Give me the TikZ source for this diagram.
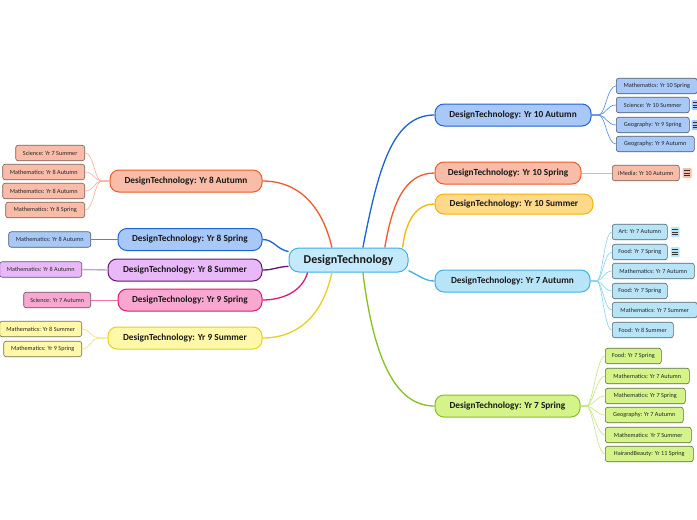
\documentclass[tikz,border=0pt]{standalone}
\usepackage{fontspec}
\setmainfont{Carlito}
\usetikzlibrary{calc}
\definecolor{blueF}{HTML}{A8C8F8}\definecolor{blueD}{HTML}{1E64D0}\definecolor{blueL}{HTML}{4A88E0}
\definecolor{salF}{HTML}{F8BCA8}\definecolor{salD}{HTML}{F05A28}\definecolor{salL}{HTML}{F8AE98}
\definecolor{orF}{HTML}{FFD98A}\definecolor{orD}{HTML}{F5B400}
\definecolor{skyF}{HTML}{B8E4F8}\definecolor{skyD}{HTML}{40B0E8}\definecolor{skyL}{HTML}{84D2F2}
\definecolor{rootF}{HTML}{C4E9FA}
\definecolor{limF}{HTML}{D4F48A}\definecolor{limD}{HTML}{88C020}\definecolor{limL}{HTML}{C4E680}
\definecolor{purF}{HTML}{E8B8F8}\definecolor{purD}{HTML}{601870}\definecolor{purL}{HTML}{C4A6D2}
\definecolor{pinF}{HTML}{F8A8D0}\definecolor{pinD}{HTML}{E01878}\definecolor{pinL}{HTML}{F070A8}
\definecolor{yelF}{HTML}{FFF8A8}\definecolor{yelD}{HTML}{E8D020}\definecolor{yelL}{HTML}{F0E070}
\begin{document}
\begin{tikzpicture}[x=1pt,y=-1pt,
  rootnode/.style={draw=skyD, fill=rootF, line width=1pt, rounded corners=10pt, minimum height=24pt, minimum width=119pt, inner sep=0pt, font=\bfseries\fontsize{12}{14}\selectfont, text=black!90},
  branch/.style={line width=1pt, rounded corners=9pt, minimum height=22pt, inner sep=0pt, font=\bfseries\fontsize{9.3}{11}\selectfont, text=black!90},
  leaf/.style={line width=0.6pt, rounded corners=2.5pt, minimum height=15.5pt, inner sep=0pt, font=\fontsize{6.2}{7}\selectfont, text=black!85},
  bl/.style={branch, draw=blueD, fill=blueF}, sal/.style={branch, draw=salD, fill=salF},
  orb/.style={branch, draw=orD, fill=orF}, sky/.style={branch, draw=skyD, fill=skyF},
  lim/.style={branch, draw=limD, fill=limF}, pur/.style={branch, draw=purD, fill=purF},
  pin/.style={branch, draw=pinD, fill=pinF}, yel/.style={branch, draw=yelD, fill=yelF},
  lbl/.style={leaf, draw=blueF!45!black, fill=blueF}, lsal/.style={leaf, draw=salF!50!black, fill=salF},
  lsky/.style={leaf, draw=skyF!45!black, fill=skyF}, llim/.style={leaf, draw=limF!45!black, fill=limF},
  lpur/.style={leaf, draw=purF!45!black, fill=purF}, lpin/.style={leaf, draw=pinF!45!black, fill=pinF},
  lyel/.style={leaf, draw=yelF!45!black, fill=yelF},
  main/.style={line width=1.3pt},
  twig/.style={line width=0.6pt},
  noteicon/.pic={\fill[pic actions, rounded corners=1pt] (-4.5,-5) rectangle (4.5,5);
     \draw[line width=0.7pt, black!80] (-2.6,-2.6)--(2.6,-2.6) (-2.6,0)--(2.6,0) (-2.6,2.6)--(2.6,2.6);}
]
\clip (0,0) rectangle (697,520);
\fill[white] (0,0) rectangle (697,520);

% root
\node[rootnode] (root) at (348.5,260) {DesignTechnology};

% branches right
\node[bl, minimum width=156pt] (b10a) at (513,115) {DesignTechnology: Yr 10 Autumn};
\node[sal, minimum width=146pt] (b10sp) at (508,173) {DesignTechnology: Yr 10 Spring};
\node[orb, minimum width=158pt, minimum height=20pt] (b10su) at (514,204) {DesignTechnology: Yr 10 Summer};
\node[sky, minimum width=155pt] (b7a) at (512.5,281) {DesignTechnology: Yr 7 Autumn};
\node[lim, minimum width=145pt] (b7sp) at (507.5,406) {DesignTechnology: Yr 7 Spring};
% branches left
\node[sal, minimum width=152pt] (b8a) at (186,181) {DesignTechnology: Yr 8 Autumn};
\node[bl, minimum width=144pt] (b8sp) at (190,239.5) {DesignTechnology: Yr 8 Spring};
\node[pur, minimum width=154pt] (b8su) at (185,270) {DesignTechnology: Yr 8 Summer};
\node[pin, minimum width=144pt] (b9sp) at (190,300) {DesignTechnology: Yr 9 Spring};
\node[yel, minimum width=154pt] (b9su) at (185,338) {DesignTechnology: Yr 9 Summer};

% main connectors
\draw[main, blueD] (root.41) .. controls (378,170) and (392,115) .. (b10a.west);
\draw[main, salD] (root.19) .. controls (392,205) and (404,173) .. (b10sp.west);
\draw[main, orD] (root.13.5) .. controls (405,225) and (414,204) .. (b10su.west);
\draw[main, skyD] (root.-10) .. controls (420,276) and (425,281) .. (b7a.west);
\draw[main, limD] (root.-41) .. controls (375,370) and (400,406) .. (b7sp.west);
\draw[main, salD] (root.143) .. controls (322,205) and (298,181) .. (b8a.east);
\draw[main, blueD] (root.172) .. controls (276,249) and (274,239.5) .. (b8sp.east);
\draw[main, purD] (root.186) .. controls (276,267) and (274,270) .. (b8su.east);
\draw[main, pinD] (root.197.5) .. controls (302,292) and (282,300) .. (b9sp.east);
\draw[main, yelD] (root.217) .. controls (322,318) and (296,338) .. (b9su.east);

% leaves Yr 10 Autumn
\node[lbl, anchor=west, minimum width=81pt] (a1) at (616,86) {Mathematics: Yr 10 Spring};
\node[lbl, anchor=west, minimum width=73pt] (a2) at (616,105) {Science: Yr 10 Summer};
\node[lbl, anchor=west, minimum width=73pt] (a3) at (616,125) {Geography: Yr 9 Spring};
\node[lbl, anchor=west, minimum width=78pt] (a4) at (616,144) {Geography: Yr 9 Autumn};
\pic[fill=blueF] at (696,105) {noteicon};
\pic[fill=blueF] at (696,125) {noteicon};
\foreach \n in {a1,a2,a3,a4}
  \draw[twig, blueL] (b10a.east) -- ++(7,0) .. controls +(7,0) and +(-9,0) .. (\n.west);

% leaf Yr 10 Spring
\node[lsal, anchor=west, minimum width=67pt] (s1) at (612,173) {iMedia: Yr 10 Autumn};
\pic[fill=salF] at (687,173) {noteicon};
\draw[twig, salL] (b10sp.east) -- (s1.west);

% leaves Yr 7 Autumn
\node[lsky, anchor=west, minimum width=55pt] (k1) at (612,232) {Art: Yr 7 Autumn};
\node[lsky, anchor=west, minimum width=55pt] (k2) at (612,252) {Food: Yr 7 Spring};
\node[lsky, anchor=west, minimum width=82pt] (k3) at (612,271) {Mathematics: Yr 7 Autumn};
\node[lsky, anchor=west, minimum width=55pt] (k4) at (612,291) {Food: Yr 7 Spring};
\node[lsky, anchor=west, minimum width=85pt] (k5) at (612,310) {Mathematics: Yr 7 Summer};
\node[lsky, anchor=west, minimum width=61pt] (k6) at (612,330) {Food: Yr 8 Summer};
\pic[fill=skyF] at (675,232) {noteicon};
\pic[fill=skyF] at (675,252) {noteicon};
\foreach \n in {k1,k2,k3,k4,k5,k6}
  \draw[twig, skyL] (b7a.east) -- ++(6,0) .. controls +(6,0) and +(-8,0) .. (\n.west);

% leaves Yr 7 Spring
\node[llim, anchor=west, minimum width=56pt] (g1) at (605,356) {Food: Yr 7 Spring};
\node[llim, anchor=west, minimum width=84pt] (g2) at (605,376) {Mathematics: Yr 7 Autumn};
\node[llim, anchor=west, minimum width=80pt] (g3) at (605,396) {Mathematics: Yr 7 Spring};
\node[llim, anchor=west, minimum width=78pt] (g4) at (605,415) {Geography: Yr 7 Autumn};
\node[llim, anchor=west, minimum width=86pt] (g5) at (605,435) {Mathematics: Yr 7 Summer};
\node[llim, anchor=west, minimum width=88pt] (g6) at (605,454) {HairandBeauty: Yr 11 Spring};
\foreach \n in {g1,g2,g3,g4,g5,g6}
  \draw[twig, limL] (b7sp.east) -- ++(6,0) .. controls +(6,0) and +(-8,0) .. (\n.west);

% leaves Yr 8 Autumn
\node[lsal, anchor=east, minimum width=69pt] (e1) at (85,153) {Science: Yr 7 Summer};
\node[lsal, anchor=east, minimum width=82pt] (e2) at (85,172) {Mathematics: Yr 8 Autumn};
\node[lsal, anchor=east, minimum width=82pt] (e3) at (85,191) {Mathematics: Yr 8 Autumn};
\node[lsal, anchor=east, minimum width=79pt] (e4) at (85,210) {Mathematics: Yr 8 Spring};
\foreach \n in {e1,e2,e3,e4}
  \draw[twig, salL] (b8a.west) -- ++(-8,0) .. controls +(-7,0) and +(9,0) .. (\n.east);

% leaf Yr 8 Spring
\node[lbl, anchor=east, minimum width=82pt] (p1) at (91,239.5) {Mathematics: Yr 8 Autumn};
\draw[twig, blueL] (b8sp.west) -- (p1.east);

% leaf Yr 8 Summer
\node[lpur, anchor=east, minimum width=82pt] (u1) at (82,269.5) {Mathematics: Yr 8 Autumn};
\draw[line width=1.4pt, purL] (b8su.west) -- (u1.east);

% leaf Yr 9 Spring
\node[lpin, anchor=east, minimum width=67pt] (n1) at (91,300) {Science: Yr 7 Autumn};
\draw[twig, pinL] (b9sp.west) -- (n1.east);

% leaves Yr 9 Summer
\node[lyel, anchor=east, minimum width=82pt] (y1) at (82,329) {Mathematics: Yr 8 Summer};
\node[lyel, anchor=east, minimum width=78pt] (y2) at (82,349) {Mathematics: Yr 9 Spring};
\foreach \n in {y1,y2}
  \draw[twig, yelL] (b9su.west) -- ++(-9,0) .. controls +(-7,0) and +(8,0) .. (\n.east);
\end{tikzpicture}
\end{document}
